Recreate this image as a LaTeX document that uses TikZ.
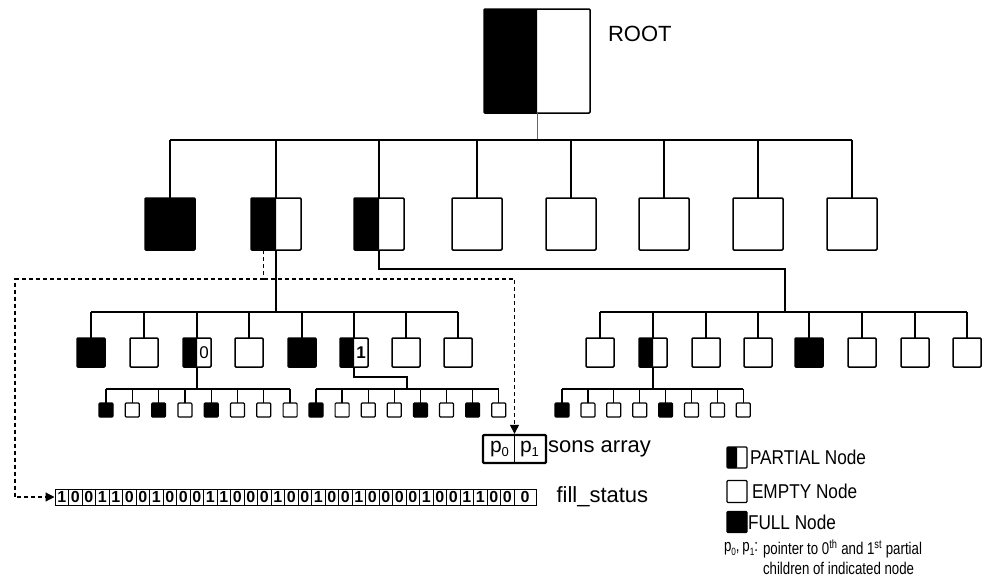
\documentclass[tikz,border=0pt]{standalone}
\usepackage{graphicx}
\usepackage{fontspec}
\setmainfont{Liberation Sans}
\newfontfamily\legfont[FakeStretch=0.86]{Liberation Sans}
\newfontfamily\narrowfont[FakeStretch=0.78]{Liberation Sans}
\usetikzlibrary{arrows.meta,calc}
\newcommand{\lowidx}[1]{\raisebox{-0.22em}{\scalebox{0.62}{#1}}}
\tikzset{
  nd/.style={draw, line width=1.5pt, rounded corners=1pt, fill=white, inner sep=0pt, outer sep=0pt},
  big/.style={nd, minimum width=50pt, minimum height=52pt},
  mid/.style={nd, minimum width=28pt, minimum height=29pt},
  leaf/.style={nd, line width=1.2pt, minimum width=14pt, minimum height=14pt},
  stP/.style={path picture={\fill[black] (path picture bounding box.south west) rectangle (path picture bounding box.north);}},
  conn/.style={line width=1.3pt},
  thinconn/.style={line width=0.9pt, black!60},
  dashptr/.style={line width=1.2pt, dash pattern=on 4pt off 3pt},
  tip/.style={-{Triangle[width=9pt,length=9pt]}},
  txt/.style={inner sep=0pt, outer sep=0pt},
  fscell/.style={draw, line width=1pt, minimum width=13.5pt, minimum height=16pt, inner sep=0pt, font=\fontsize{16}{16}\selectfont\bfseries},
  big22/.style={font=\fontsize{22}{22}\selectfont},
  legtext/.style={txt, anchor=west, font=\legfont\fontsize{20}{20}\selectfont}
}
\begin{document}
\begin{tikzpicture}[x=1pt,y=-1pt]
\useasboundingbox (0,0) rectangle (1005,584);

% root
\node[nd, minimum width=106pt, minimum height=104pt, stP] (root) at (537,61) {};
\node[txt, big22, anchor=west] (rootlbl) at (608,34) {ROOT};

% level 1
\node[big, fill=black] (l1-1) at (170,224) {};
\node[big, stP] (l1-2) at (276,224) {};
\node[big, stP] (l1-3) at (379,224) {};
\node[big] (l1-4) at (477,224) {};
\node[big] (l1-5) at (571,224) {};
\node[big] (l1-6) at (664,224) {};
\node[big] (l1-7) at (758,224) {};
\node[big] (l1-8) at (852,224) {};

\coordinate (bar0) at (0,140);
\draw[thinconn] (root.south) -- (root.south |- bar0);
\draw[conn] (l1-1.north |- bar0) -- (l1-8.north |- bar0);
\foreach \k in {1,...,8} \draw[conn] (l1-\k.north) -- (l1-\k.north |- bar0);

% level 2 left
\node[mid, fill=black] (l2a-1) at (91,352.5) {};
\node[mid] (l2a-2) at (144,352.5) {};
\node[mid, stP] (l2a-3) at (197,352.5) {};
\node[mid] (l2a-4) at (249,352.5) {};
\node[mid, fill=black] (l2a-5) at (302,352.5) {};
\node[mid, stP] (l2a-6) at (354,352.5) {};
\node[mid] (l2a-7) at (406,352.5) {};
\node[mid] (l2a-8) at (458,352.5) {};
\node[txt, font=\fontsize{17}{17}\selectfont] (lbl0) at ($(l2a-3.center)+(7,0)$) {0};
\node[txt, font=\fontsize{17}{17}\selectfont\bfseries] (lbl1) at ($(l2a-6.center)+(7,0)$) {1};

\coordinate (barL) at (0,312);
\draw[conn] (l1-2.south) -- (l1-2.south |- barL);
\draw[conn] (l2a-1.north |- barL) -- (l2a-8.north |- barL);
\foreach \k in {1,...,8} \draw[conn] (l2a-\k.north) -- (l2a-\k.north |- barL);

% level 2 right
\node[mid] (l2b-1) at (600,352.5) {};
\node[mid, stP] (l2b-2) at (653,352.5) {};
\node[mid] (l2b-3) at (706,352.5) {};
\node[mid] (l2b-4) at (758,352.5) {};
\node[mid, fill=black] (l2b-5) at (809,352.5) {};
\node[mid] (l2b-6) at (862,352.5) {};
\node[mid] (l2b-7) at (915,352.5) {};
\node[mid] (l2b-8) at (967,352.5) {};

\coordinate (jog) at (0,269);
\coordinate (barR) at (785,312);
\draw[conn] (l1-3.south) |- (barR |- jog) -- (barR);
\draw[conn] (l2b-1.north |- barR) -- (l2b-8.north |- barR);
\foreach \k in {1,...,8} \draw[conn] (l2b-\k.north) -- (l2b-\k.north |- barR);

% leaves
\coordinate (barLeaf) at (0,389);
\foreach \c [count=\i] in {black,white,black,white,black,white,white,white} {
  \node[leaf, fill=\c] (la-\i) at ({106+26.3*(\i-1)},410) {};
  \draw[conn] (la-\i.north) -- (la-\i.north |- barLeaf);
}
\draw[conn] (la-1.north |- barLeaf) -- (la-8.north |- barLeaf);
\draw[conn] (l2a-3.south) -- (l2a-3.south |- barLeaf);

\foreach \c [count=\i] in {black,white,white,white,black,white,black,white} {
  \node[leaf, fill=\c] (lb-\i) at ({316+26.1*(\i-1)},410) {};
  \draw[conn] (lb-\i.north) -- (lb-\i.north |- barLeaf);
}
\draw[conn] (lb-1.north |- barLeaf) -- (lb-8.north |- barLeaf);
\coordinate (jogB) at (0,377);
\coordinate (topB) at (407,389);
\draw[conn] (l2a-6.south) |- (topB |- jogB) -- (topB);

\foreach \c [count=\i] in {black,white,white,white,black,white,white,white} {
  \node[leaf, fill=\c] (lc-\i) at ({562+25.9*(\i-1)},410) {};
  \draw[conn] (lc-\i.north) -- (lc-\i.north |- barLeaf);
}
\draw[conn] (lc-1.north |- barLeaf) -- (lc-8.north |- barLeaf);
\draw[conn] (l2b-2.south) -- (l2b-2.south |- barLeaf);

% sons array
\node[draw, line width=2.3pt, rounded corners=1pt, minimum width=63pt, minimum height=28pt, inner sep=0pt] (sons) at (514.5,449) {};
\draw[line width=1pt] (sons.north) -- (sons.south);
\node[txt, font=\fontsize{21}{21}\selectfont] (p0) at ($(sons.center)+(-15,0)$) {p\lowidx{0}};
\node[txt, font=\fontsize{21}{21}\selectfont] (p1) at ($(sons.center)+(15,0)$) {p\lowidx{1}};
\node[txt, big22, anchor=west] (sonslbl) at ($(sons.east)+(1,0)$) {sons array};

% fill status
\foreach \b [count=\i] in {1,0,0,1,1,0,0,1,0,0,0,1,1,0,0,0,1,0,0,1,0,0,1,0,0,0,0,1,0,0,1,1,0,0} {
  \node[fscell] (fs-\i) at ({55+13.5*(\i-0.5)},497) {\b};
}
\node[fscell, minimum width=22pt] (fs-35) at ({55+13.5*34+11},497) {0\hspace{6pt}};
\node[txt, big22, anchor=west] (fslbl) at ($(fs-35.east)+(20,0)$) {fill\_status};

% dashed pointers
\coordinate (dA) at ($(l1-2.south)!0.5!(l1-2.south west)$);
\coordinate (dashY) at (0,279);
\coordinate (dL) at (15,279);
\draw[dashptr] (dA) -- (dA |- dashY);
\draw[dashptr, tip] (dA |- dashY) -- (dL) |- (fs-1.west);
\draw[dashptr, tip] (dA |- dashY) -| (sons.north);

% legend
\node[nd, line width=1.3pt, minimum width=20pt, minimum height=21pt, stP] (lgP) at (737,457.5) {};
\node[legtext] (lgPt) at ($(lgP.east)+(3,0)$) {PARTIAL Node};
\node[nd, line width=1.3pt, minimum width=20pt, minimum height=22pt] (lgE) at (737,491.5) {};
\node[legtext] (lgEt) at ($(lgE.east)+(5,0)$) {EMPTY Node};
\node[nd, line width=1.3pt, minimum width=20pt, minimum height=21pt, fill=black] (lgF) at (737,522) {};
\node[legtext] (lgFt) at ($(lgF.east)+(1,0)$) {FULL Node};

\node[txt, anchor=west, font=\narrowfont\fontsize{17}{17}\selectfont] (ptr) at (724,549) {p\lowidx{0},\,p\lowidx{1}:};
\node[txt, anchor=west, font=\narrowfont\fontsize{17}{17}\selectfont] (ptr1) at (763,549) {pointer to 0\textsuperscript{th} and 1\textsuperscript{st} partial};
\node[txt, anchor=west, font=\narrowfont\fontsize{17}{17}\selectfont] (ptr2) at (763,568) {children of indicated node};
\end{tikzpicture}
\end{document}
